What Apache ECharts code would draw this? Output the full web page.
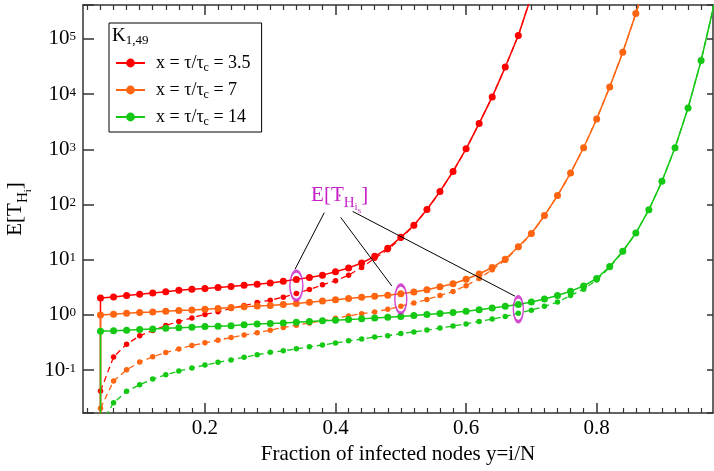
<!DOCTYPE html>
<html>
<head>
<meta charset="utf-8">
<script src="https://cdn.jsdelivr.net/npm/echarts@6/dist/echarts.min.js"></script>
<style>
html,body{margin:0;padding:0;background:#fff;}
#c{width:714px;height:471px;}
</style>
</head>
<body>
<div id="c"></div>
<script>
// ---------------- data ----------------
const xPos = [0.04,0.06,0.08,0.10,0.12,0.14,0.16,0.18,0.20,0.22,0.24,0.26,0.28,0.30,0.32,0.34,0.36,0.38,0.40,0.42,0.44,0.46,0.48,0.50,0.52,0.54,0.56,0.58,0.60,0.62,0.64,0.66,0.68,0.70,0.72,0.74,0.76,0.78,0.80,0.82,0.84,0.86,0.88,0.90,0.92,0.94,0.96,0.98];

// x = tau/tau_c = 3.5
const redUpper = [2.03,2.11,2.24,2.37,2.50,2.63,2.80,2.92,3.00,3.13,3.26,3.44,3.59,3.79,4.06,4.40,4.74,5.25,6.03,7.08,8.71,11.5,16.1,25.4,42.2,81.3,172,398,1020,2950,8910,30900,115000,603000];
const redLower = [0.0417,0.172,0.295,0.417,0.521,0.643,0.759,0.883,1.02,1.14,1.30,1.48,1.67,1.85,2.09,2.44,2.88,3.51,4.15,5.25,7.24,10.6,15.1,24.5,41.2,80.4,170,395,1010,2950,8910,30900,115000,603000];
// x = tau/tau_c = 7
const orangeUpper = [1.00,1.03,1.07,1.10,1.13,1.17,1.20,1.23,1.27,1.30,1.36,1.41,1.45,1.48,1.55,1.61,1.69,1.78,1.88,1.98,2.09,2.17,2.28,2.42,2.60,2.85,3.24,3.67,4.42,5.50,7.21,10.2,17.2,29.9,63.1,145,372,1070,3550,13500,57500,288000,1580000];
const orangeLower = [0.0203,0.0632,0.101,0.140,0.174,0.209,0.240,0.279,0.312,0.348,0.390,0.430,0.473,0.528,0.592,0.652,0.716,0.780,0.867,0.959,1.05,1.13,1.26,1.44,1.65,1.90,2.24,2.66,3.39,4.57,6.61,9.77,16.6,29.2,62.5,144,370,1070,3550,13500,57500,288000,1580000];
// x = tau/tau_c = 14
const greenUpper = [0.507,0.514,0.528,0.543,0.558,0.574,0.582,0.598,0.617,0.625,0.638,0.664,0.681,0.698,0.716,0.738,0.759,0.780,0.802,0.824,0.847,0.875,0.904,0.940,0.977,1.02,1.06,1.11,1.17,1.24,1.33,1.43,1.55,1.72,1.94,2.24,2.69,3.34,4.57,7.50,14.2,30.4,80.4,263,1070,5620,40700,427000];
const greenLower = [0.01,0.0256,0.0412,0.0542,0.0687,0.0822,0.0959,0.109,0.123,0.138,0.153,0.171,0.189,0.210,0.223,0.243,0.264,0.285,0.310,0.339,0.364,0.397,0.419,0.459,0.492,0.530,0.578,0.628,0.687,0.762,0.840,0.940,1.07,1.22,1.43,1.71,2.24,2.92,4.27,7.24,14.0,30.2,80.4,263,1070,5620,40700,427000];
// value the upper curves drop to at their first abscissa (vertical start segment)
const startDrop = 0.001;

const tauValues = ['3.5','7','14'];
const legendNames = tauValues.map(t => 'x = \u03c4/\u03c4c = ' + t);

const xMajorTicks = [0.2,0.4,0.6,0.8];
const xMinorTicks = [0.02,0.04,0.06,0.08,0.10,0.12,0.14,0.16,0.18,0.22,0.24,0.26,0.28,0.30,0.32,0.34,0.36,0.38,0.42,0.44,0.46,0.48,0.50,0.52,0.54,0.56,0.58,0.62,0.64,0.66,0.68,0.70,0.72,0.74,0.76,0.78,0.82,0.84,0.86,0.88,0.90,0.92,0.94,0.96];

// annotation: ellipses around E[T_His] points and pointer lines
const ellipseCenters = [[0.34,3.40],[0.50,1.94],[0.68,1.27]];
const pointerLines = [
  [[0.3828,71.1],[0.3379,6.70]],
  [[0.4079,58.4],[0.4861,3.35]],
  [[0.4263,75.0],[0.6749,2.18]]
];
const annotationAnchor = [0.4063,145];

const xTitle = 'Fraction of infected nodes y=i/N';

// ---------------- styles ----------------
const FONT = 'Liberation Serif';
const COLORS = ['#ff0000','#ff6410','#14c814'];
const MAG = '#c71fc7';
const AXC = '#333';
const ellipseSizes = [[13,29],[12,28],[10,25]];

const xMin = 0.0132, xMax = 0.9782, yMin = 0.01669, yMax = 412000;

const chart = echarts.init(document.getElementById('c'), null, {renderer:'canvas'});

function pairs(vals){ return vals.map((v,i)=>[xPos[i], v]); }

const groups = [
  {upper: redUpper, lower: redLower},
  {upper: orangeUpper, lower: orangeLower},
  {upper: greenUpper, lower: greenLower}
];

const series = [];
groups.forEach((g, k) => {
  series.push({
    name: legendNames[k], type:'line',
    data: [[xPos[0], startDrop]].concat(pairs(g.upper)),
    symbol:'circle', symbolSize:7, clip:true,
    lineStyle:{color:COLORS[k], width:1.5},
    itemStyle:{color:COLORS[k]},
    z:3, silent:true
  });
  series.push({
    name: legendNames[k] + ' lower', type:'line',
    data: pairs(g.lower),
    symbol:'circle', symbolSize:5.5, clip:true,
    lineStyle:{color:COLORS[k], width:1.3, type:[6,4]},
    itemStyle:{color:COLORS[k]},
    z:2, silent:true
  });
});

pointerLines.forEach(seg => {
  series.push({
    type:'line', data: seg, symbol:'none', clip:false,
    lineStyle:{color:'#000', width:1}, z:4, silent:true
  });
});

series.push({
  type:'scatter', data: ellipseCenters, symbol:'circle',
  symbolSize: (v, p) => ellipseSizes[p.dataIndex],
  itemStyle:{color:'rgba(0,0,0,0)', borderColor:MAG, borderWidth:2.2},
  z:5, silent:true
});

const annRich = {
  m:{fontFamily:FONT, fontSize:21, lineHeight:24, color:MAG, textBorderWidth:0},
  h:{fontFamily:FONT, fontSize:15, lineHeight:15, padding:[15,0,0,0], color:MAG, textBorderWidth:0},
  i:{fontFamily:FONT, fontSize:11, lineHeight:11, padding:[24,0,0,0], color:MAG, textBorderWidth:0},
  s:{fontFamily:FONT, fontSize:9, lineHeight:9, padding:[30,0,0,0], color:MAG, textBorderWidth:0}
};

series.push({
  type:'scatter', data:[annotationAnchor], symbol:'circle', symbolSize:2,
  itemStyle:{color:MAG, opacity:1, borderWidth:0},
  label:{
    show:true, position:'inside', color:MAG, opacity:1,
    textBorderWidth:0, textBorderColor:'transparent', textShadowBlur:0,
    formatter:'{m|E[T}{h|H}{i|i}{s|s}{m|]}',
    rich: annRich
  },
  labelLayout:{hideOverlap:false},
  z:6, silent:true
});

const xBase = {type:'value', min:xMin, max:xMax, splitLine:{show:false}};
const lineSt = {color:AXC, width:1.5};

const option = {
  animation:false,
  backgroundColor:'#fff',
  grid:{left:83, right:1, top:5, bottom:58, containLabel:false, outerBoundsMode:'none'},
  title:{
    text:'{k|K}{s|1,49}', left:112, top:26, padding:0,
    textStyle:{fontWeight:'normal', rich:{
      k:{fontFamily:FONT, fontSize:19, fontWeight:'normal', lineHeight:20, color:'#000'},
      s:{fontFamily:FONT, fontSize:13, fontWeight:'normal', lineHeight:13, padding:[9,0,0,0], color:'#000'}
    }}
  },
  legend:{
    data: legendNames, orient:'vertical', left:109, top:23,
    padding:[29,11,4,6], itemGap:5, itemWidth:29, itemHeight:11,
    borderColor:'#000', borderWidth:1, borderRadius:0, backgroundColor:'#fff',
    selectedMode:false,
    formatter: n => { const t = n.split('= ').pop(); return '{p|x = \u03c4/\u03c4}{c|c}{a| = ' + t + '}'; },
    textStyle:{fontFamily:FONT, fontSize:18, color:'#000', rich:{
      p:{fontFamily:FONT, fontSize:18, lineHeight:20, padding:[0,0,0,6], color:'#000'},
      a:{fontFamily:FONT, fontSize:18, lineHeight:20, color:'#000'},
      c:{fontFamily:FONT, fontSize:12, lineHeight:12, padding:[10,0,0,0], color:'#000'}
    }}
  },
  xAxis:[
    Object.assign({}, xBase, {position:'bottom',
      axisLine:{show:true, onZero:false, lineStyle:lineSt},
      axisTick:{show:true, inside:true, length:10, customValues:xMajorTicks, lineStyle:lineSt},
      axisLabel:{show:true, customValues:xMajorTicks, formatter:v=>v.toFixed(1), fontFamily:FONT, fontSize:21, color:'#000', margin:5},
      name:xTitle, nameLocation:'middle', nameGap:31,
      nameTextStyle:{fontFamily:FONT, fontSize:21, color:'#000'}}),
    Object.assign({}, xBase, {position:'bottom',
      axisLine:{show:false, onZero:false},
      axisTick:{show:true, inside:true, length:5, customValues:xMinorTicks, lineStyle:{color:AXC, width:1.2}},
      axisLabel:{show:false}}),
    Object.assign({}, xBase, {position:'top',
      axisLine:{show:true, onZero:false, lineStyle:lineSt},
      axisTick:{show:true, inside:true, length:10, customValues:xMajorTicks, lineStyle:lineSt},
      axisLabel:{show:false}}),
    Object.assign({}, xBase, {position:'top',
      axisLine:{show:false, onZero:false},
      axisTick:{show:true, inside:true, length:5, customValues:xMinorTicks, lineStyle:{color:AXC, width:1.2}},
      axisLabel:{show:false}})
  ],
  yAxis:[
    {type:'log', logBase:10, min:yMin, max:yMax, splitNumber:7, position:'left',
      splitLine:{show:false},
      axisLine:{show:true, onZero:false, lineStyle:lineSt},
      axisTick:{show:true, inside:true, length:11, lineStyle:lineSt},
      axisLabel:{show:true, margin:7,
        formatter: v => { const e = Math.log10(v); if (Math.abs(e - Math.round(e)) > 1e-6) return ''; return '{b|10}{s|' + Math.round(e) + '}'; },
        rich:{
          b:{fontFamily:FONT, fontSize:21, lineHeight:21, color:'#000'},
          s:{fontFamily:FONT, fontSize:13, lineHeight:13, padding:[0,0,4,0], color:'#000'}
        }},
      name:'{m|E[T}{h|H}{i|i}{m|]}', nameLocation:'middle', nameGap:52,
      nameTextStyle:{rich:{
        m:{fontFamily:FONT, fontSize:21, lineHeight:24, color:'#000'},
        h:{fontFamily:FONT, fontSize:15, lineHeight:15, padding:[15,0,0,0], color:'#000'},
        i:{fontFamily:FONT, fontSize:11, lineHeight:11, padding:[24,0,0,0], color:'#000'}
      }}
    },
    {type:'log', logBase:10, min:yMin, max:yMax, splitNumber:7, position:'right',
      splitLine:{show:false},
      axisLine:{show:true, onZero:false, lineStyle:lineSt},
      axisTick:{show:true, inside:true, length:6, lineStyle:lineSt},
      axisLabel:{show:false}
    }
  ],
  series: series
};

chart.setOption(option);
</script>
</body>
</html>
